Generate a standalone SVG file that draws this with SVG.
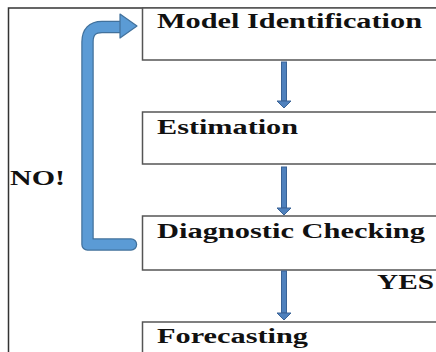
<svg xmlns="http://www.w3.org/2000/svg" width="436" height="352" viewBox="0 0 436 352">
<style>
.frame{fill:none;stroke:#333;stroke-width:1.5}
.box{fill:#fff;stroke:#555;stroke-width:1.5}
.lbl{font-family:"Liberation Serif","Times New Roman",serif;font-weight:bold;font-size:20px;fill:#111}
.shaft{fill:#4F81BD;stroke:#3A6396;stroke-width:1}
</style>
<rect width="436" height="352" fill="#fff"/>
<path class="frame" d="M8.5 352 V8 H436"/>
<g id="model-identification">
<rect class="box" x="142.5" y="8" width="300" height="52"/>
<text class="lbl" x="157" y="28" textLength="265" lengthAdjust="spacingAndGlyphs">Model Identification</text>
</g>
<g id="estimation">
<rect class="box" x="142.5" y="112" width="300" height="52"/>
<text class="lbl" x="157" y="134" textLength="141" lengthAdjust="spacingAndGlyphs">Estimation</text>
</g>
<g id="diagnostic-checking">
<rect class="box" x="142.5" y="216" width="300" height="54"/>
<text class="lbl" x="157" y="238" textLength="268" lengthAdjust="spacingAndGlyphs">Diagnostic Checking</text>
</g>
<g id="forecasting">
<rect class="box" x="142.5" y="322" width="300" height="40"/>
<text class="lbl" x="157" y="343" textLength="151" lengthAdjust="spacingAndGlyphs">Forecasting</text>
</g>
<g id="labels">
<text class="lbl" x="10" y="185" textLength="55" lengthAdjust="spacingAndGlyphs">NO!</text>
<text class="lbl" x="377" y="289" textLength="57" lengthAdjust="spacingAndGlyphs">YES</text>
</g>
<g id="connectors">
<g id="feedback">
<path d="M131 244.5 H87.5 V42 Q87.5 27 102 27 H124" fill="none" stroke="#41719C" stroke-width="12.5" stroke-linecap="round" stroke-linejoin="round"/>
<path d="M131 244.5 H87.5 V42 Q87.5 27 102 27 H124" fill="none" stroke="#5B9BD5" stroke-width="10" stroke-linecap="round" stroke-linejoin="round"/>
<path d="M120 14 L137 26 L120 38 Z" fill="#5B9BD5" stroke="#41719C" stroke-width="1.2" stroke-linejoin="round"/>
</g>
<g id="a1">
<rect class="shaft" x="281.5" y="62" width="5" height="39"/>
<path class="shaft" d="M277 101 H291 L284 108 Z"/>
</g>
<g id="a2">
<rect class="shaft" x="281.5" y="167" width="5" height="41"/>
<path class="shaft" d="M277 208 H291 L284 215 Z"/>
</g>
<g id="a3">
<rect class="shaft" x="281.5" y="271" width="5" height="42"/>
<path class="shaft" d="M277 313 H291 L284 320 Z"/>
</g>
</g>
</svg>
